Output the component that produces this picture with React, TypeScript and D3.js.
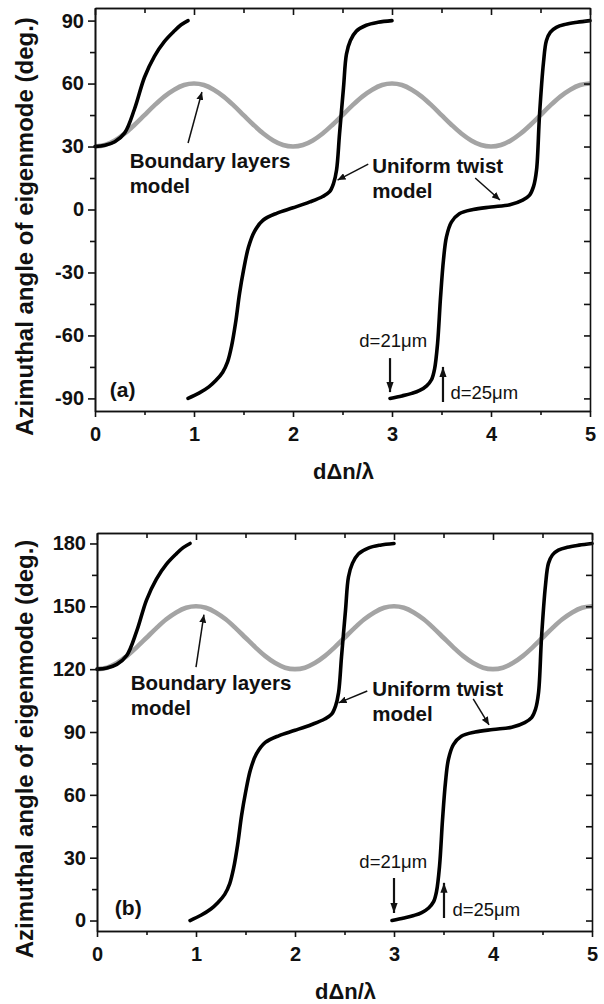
import { useEffect, useRef } from 'react';
import * as d3 from 'd3';

// grid of dΔn/λ values where the boundary-layer curves were read
const gridX = [0, 0.1, 0.2, 0.3, 0.4, 0.5, 0.6, 0.7, 0.8, 0.9, 1, 1.1, 1.2, 1.3, 1.4, 1.5, 1.6, 1.7, 1.8, 1.9, 2,
  2.1, 2.2, 2.3, 2.4, 2.5, 2.6, 2.7, 2.8, 2.9, 3, 3.1, 3.2, 3.3, 3.4, 3.5, 3.6, 3.7, 3.8, 3.9, 4,
  4.1, 4.2, 4.3, 4.4, 4.5, 4.6, 4.7, 4.8, 4.9, 5];

const boundaryA = [30, 30.7, 32.9, 36.2, 40.4, 45, 49.6, 53.8, 57.1, 59.3, 60, 59.3, 57.1, 53.8, 49.6, 45, 40.4, 36.2, 32.9, 30.7, 30,
  30.7, 32.9, 36.2, 40.4, 45, 49.6, 53.8, 57.1, 59.3, 60, 59.3, 57.1, 53.8, 49.6, 45, 40.4, 36.2, 32.9, 30.7, 30,
  30.7, 32.9, 36.2, 40.4, 45, 49.6, 53.8, 57.1, 59.3, 60];

const boundaryB = [120, 120.7, 122.9, 126.2, 130.4, 135, 139.6, 143.8, 147.1, 149.3, 150, 149.3, 147.1, 143.8, 139.6, 135, 130.4, 126.2, 122.9, 120.7, 120,
  120.7, 122.9, 126.2, 130.4, 135, 139.6, 143.8, 147.1, 149.3, 150, 149.3, 147.1, 143.8, 139.6, 135, 130.4, 126.2, 122.9, 120.7, 120,
  120.7, 122.9, 126.2, 130.4, 135, 139.6, 143.8, 147.1, 149.3, 150];

// uniform twist model, three branches per panel
const twistX1 = [0, 0.1, 0.2, 0.3, 0.4, 0.5, 0.6, 0.7, 0.8, 0.87, 0.94];
const twistX2 = [0.94, 1.05, 1.15, 1.22, 1.29, 1.34, 1.38, 1.42, 1.46, 1.5, 1.55, 1.61, 1.7, 1.84, 2.0, 2.17, 2.3, 2.37, 2.41, 2.44, 2.47, 2.51, 2.54, 2.58, 2.64, 2.74, 2.86, 3.0];
const twistX3 = [2.98, 3.1, 3.2, 3.28, 3.35, 3.4, 3.43, 3.46, 3.49, 3.52, 3.55, 3.6, 3.68, 3.82, 4.0, 4.19, 4.32, 4.39, 4.43, 4.46, 4.49, 4.53, 4.56, 4.6, 4.66, 4.75, 4.87, 5.0];

const twistA1 = [30, 30.6, 32.3, 36.5, 48, 63, 73, 80, 85, 88, 90];
const twistA2 = [-90, -87.5, -84.5, -81.5, -77.5, -72.5, -65, -54, -40, -29, -18, -10.5, -5, -1.7, 0.8, 3.6, 6.2, 8.5, 12.5, 18.8, 36, 58, 74, 80.5, 85, 87.8, 89.2, 90];
const twistA3 = [-90, -88.8, -87.6, -86.2, -84, -81, -76, -64, -42, -24, -13, -6, -2, 0, 1.2, 2.3, 4.5, 6.9, 11, 18.8, 45, 70, 80.5, 84.5, 86.8, 88.2, 89.2, 90];

const twistB1 = [120, 120.6, 122.3, 126.5, 138, 153, 163, 170, 175, 178, 180];
const twistB2 = [0, 2.5, 5.5, 8.5, 12.5, 17.5, 25, 36, 50, 61, 72, 79.5, 85, 88.3, 90.8, 93.6, 96.2, 98.5, 102.5, 108.8, 126, 148, 164, 170.5, 175, 177.8, 179.2, 180];
const twistB3 = [0, 1.2, 2.4, 3.8, 6, 9, 14, 26, 48, 66, 77, 84, 88, 90, 91.2, 92.3, 94.5, 96.9, 101, 108.8, 135, 160, 170.5, 174.5, 176.8, 178.2, 179.2, 180];

const xTicks = [0, 1, 2, 3, 4, 5];
const xMinor = [0.5, 1.5, 2.5, 3.5, 4.5];
const yTicksA = [-90, -60, -30, 0, 30, 60, 90];
const yMinorA = [-75, -45, -15, 15, 45, 75];
const yTicksB = [0, 30, 60, 90, 120, 150, 180];
const yMinorB = [15, 45, 75, 105, 135, 165];

const FONT = '"Liberation Sans", Arial, Helvetica, sans-serif';

const panels = [
  {
    left: 95, right: 590, top: 8, bottom: 411, yDomain: [-96, 96],
    boundary: boundaryA, twist: [[twistX1, twistA1], [twistX2, twistA2], [twistX3, twistA3]],
    yTicks: yTicksA, yMinor: yMinorA, tag: '(a)', tagAt: [0.15, -89.3],
    blText: [0.35, 19.7], blArrow: [[0.94, 31.7], [1.08, 56]],
    utText: [2.8, 17.4], utArrow1: [[2.76, 21.6], [2.45, 14]], utArrow2: [[3.84, 15], [4.09, 4.5]],
    d21Text: [2.67, -65.5], d21Arrow: [[2.98, -70.8], [2.98, -87]],
    d25Text: [3.59, -90.2], d25Arrow: [[3.515, -91.7], [3.515, -75]],
  },
  {
    left: 97, right: 592, top: 533, bottom: 931, yDomain: [-5, 185],
    boundary: boundaryB, twist: [[twistX1, twistB1], [twistX2, twistB2], [twistX3, twistB3]],
    yTicks: yTicksB, yMinor: yMinorB, tag: '(b)', tagAt: [0.18, 2.7],
    blText: [0.34, 110], blArrow: [[1.0, 121], [1.08, 146]],
    utText: [2.78, 107.2], utArrow1: [[2.73, 109.6], [2.44, 103.9]], utArrow2: [[3.8, 105.8], [3.96, 93.4]],
    d21Text: [2.65, 25.1], d21Arrow: [[3.0, 20.3], [3.0, 3.6]],
    d25Text: [3.59, 2.2], d25Arrow: [[3.505, 1.2], [3.505, 18]],
  },
];

function drawPanel(svg: any, p: any) {
  const x = d3.scaleLinear().domain([0, 5]).range([p.left, p.right]);
  const y = d3.scaleLinear().domain(p.yDomain).range([p.bottom, p.top]);
  const g = svg.append('g');

  const line = d3.line<[number, number]>()
    .x(d => x(d[0]))
    .y(d => y(d[1]))
    .curve(d3.curveCatmullRom.alpha(0.5));

  g.append('path')
    .datum(d3.zip(gridX, p.boundary))
    .attr('d', line)
    .attr('fill', 'none')
    .attr('stroke', '#a4a4a4')
    .attr('stroke-width', 4.6);

  p.twist.forEach(([xs, ys]: number[][]) => {
    g.append('path')
      .datum(d3.zip(xs, ys))
      .attr('d', line)
      .attr('fill', 'none')
      .attr('stroke', '#000')
      .attr('stroke-width', 3.6)
      .attr('stroke-linecap', 'round');
  });

  // axes: bottom (outward ticks), top/right (inward), left (outward)
  const styleAxis = (a: any) => {
    a.selectAll('path.domain').attr('stroke', '#111').attr('stroke-width', 1.6);
    a.selectAll('line').attr('stroke', '#111').attr('stroke-width', 1.6);
    a.selectAll('text')
      .attr('fill', '#111')
      .style('font-family', FONT)
      .style('font-weight', '700')
      .style('font-size', '20px');
  };
  const plain = (d: any) => String(d);

  const bottom = g.append('g').attr('transform', `translate(0,${p.bottom})`)
    .call(d3.axisBottom(x).tickValues(xTicks).tickSize(6).tickSizeOuter(0).tickPadding(10).tickFormat(plain));
  styleAxis(bottom);
  const bottomMinor = g.append('g').attr('transform', `translate(0,${p.bottom})`)
    .call(d3.axisBottom(x).tickValues(xMinor).tickSize(4).tickSizeOuter(0).tickFormat(() => ''));
  styleAxis(bottomMinor);

  const top = g.append('g').attr('transform', `translate(0,${p.top})`)
    .call(d3.axisTop(x).tickValues(xTicks).tickSize(-7).tickSizeOuter(0).tickFormat(() => ''));
  styleAxis(top);
  const topMinor = g.append('g').attr('transform', `translate(0,${p.top})`)
    .call(d3.axisTop(x).tickValues(xMinor).tickSize(-5).tickSizeOuter(0).tickFormat(() => ''));
  styleAxis(topMinor);

  const left = g.append('g').attr('transform', `translate(${p.left},0)`)
    .call(d3.axisLeft(y).tickValues(p.yTicks).tickSize(7).tickSizeOuter(0).tickPadding(4).tickFormat(plain));
  styleAxis(left);
  const leftMinor = g.append('g').attr('transform', `translate(${p.left},0)`)
    .call(d3.axisLeft(y).tickValues(p.yMinor).tickSize(5).tickSizeOuter(0).tickFormat(() => ''));
  styleAxis(leftMinor);

  const right = g.append('g').attr('transform', `translate(${p.right},0)`)
    .call(d3.axisRight(y).tickValues([...p.yTicks, ...p.yMinor]).tickSize(-6).tickSizeOuter(0).tickFormat(() => ''));
  styleAxis(right);

  // axis titles
  const midY = (p.top + p.bottom) / 2 + 17;
  g.append('text')
    .attr('transform', `translate(33,${midY}) rotate(-90)`)
    .attr('text-anchor', 'middle')
    .attr('fill', '#111')
    .style('font-family', FONT)
    .style('font-weight', '700')
    .style('font-size', '24px')
    .text('Azimuthal angle of eigenmode (deg.)');

  g.append('text')
    .attr('x', (p.left + p.right) / 2 + 1)
    .attr('y', p.bottom + 68)
    .attr('text-anchor', 'middle')
    .attr('fill', '#111')
    .style('font-family', FONT)
    .style('font-weight', '700')
    .style('font-size', '22px')
    .text('dΔn/λ');

  // annotations
  const label = (at: number[], txt: string, size: number, weight = '700', dy = 0) =>
    g.append('text')
      .attr('x', x(at[0]))
      .attr('y', y(at[1]) + dy)
      .attr('fill', '#111')
      .style('font-family', FONT)
      .style('font-weight', weight)
      .style('font-size', `${size}px`)
      .text(txt);

  const arrow = (pts: number[][], marker: string, w: number) =>
    g.append('line')
      .attr('x1', x(pts[0][0])).attr('y1', y(pts[0][1]))
      .attr('x2', x(pts[1][0])).attr('y2', y(pts[1][1]))
      .attr('stroke', '#111')
      .attr('stroke-width', w)
      .attr('marker-end', `url(#${marker})`);

  label(p.blText, 'Boundary layers', 20.5);
  label(p.blText, 'model', 20.5, '700', 25);
  arrow(p.blArrow, 'headSmall', 1.5);

  label(p.utText, 'Uniform twist', 20.5);
  label(p.utText, 'model', 20.5, '700', 25);
  arrow(p.utArrow1, 'headSmall', 1.5);
  arrow(p.utArrow2, 'headSmall', 1.5);

  label(p.tagAt, p.tag, 21);
  label(p.d21Text, 'd=21μm', 18.5, '400');
  label(p.d25Text, 'd=25μm', 18.5, '400');
  arrow(p.d21Arrow, 'headBig', 2.2);
  arrow(p.d25Arrow, 'headBig', 2.2);
}

export default function App() {
  const svgRef = useRef<SVGSVGElement>(null);

  useEffect(() => {
    document.body.style.margin = '0';
    const svg = d3.select(svgRef.current);
    svg.selectAll('*').remove();

    const defs = svg.append('defs');
    const addMarker = (id: string, len: number, half: number) => {
      defs.append('marker')
        .attr('id', id)
        .attr('markerUnits', 'userSpaceOnUse')
        .attr('viewBox', `0 ${-half} ${len} ${half * 2}`)
        .attr('refX', len)
        .attr('refY', 0)
        .attr('markerWidth', len)
        .attr('markerHeight', half * 2)
        .attr('orient', 'auto')
        .append('path')
        .attr('d', `M0,${-half}L${len},0L0,${half}Z`)
        .attr('fill', '#111');
    };
    addMarker('headSmall', 8, 3.5);
    addMarker('headBig', 10, 3.6);

    svg.append('rect').attr('width', 604).attr('height', 1004).attr('fill', '#fff');
    panels.forEach(p => drawPanel(svg, p));
  }, []);

  return <svg ref={svgRef} width={604} height={1004} style={{ display: 'block' }} />;
}
